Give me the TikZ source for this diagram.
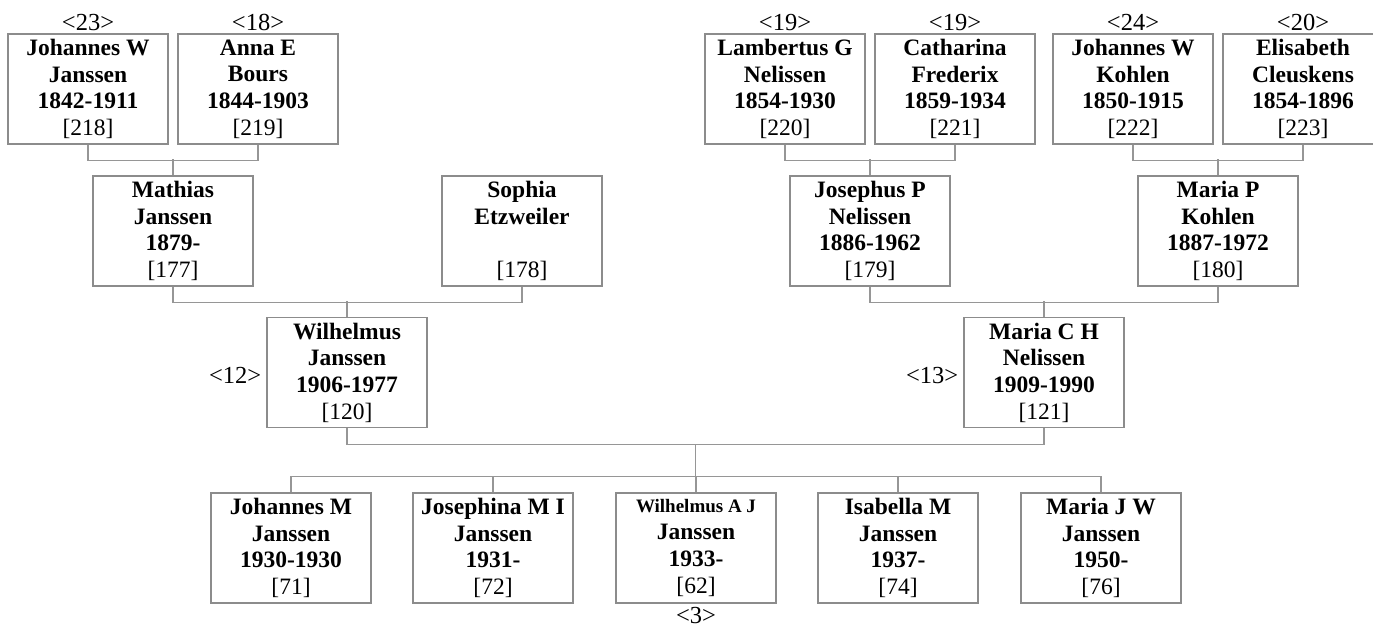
\documentclass[tikz,border=0pt]{standalone}
\usepackage{fontspec}
\setmainfont{Liberation Serif}
\usetikzlibrary{calc}
\definecolor{boxline}{RGB}{140,140,140}
\definecolor{conline}{RGB}{150,150,150}
\tikzset{
  pbox/.style={draw=boxline, line width=1.3pt, minimum width=160pt, minimum height=110pt,
    inner sep=0pt, align=center, font=\fontsize{23.5}{26.7}\selectfont, text=black},
  con/.style={draw=conline, line width=1.3pt},
  lab/.style={inner sep=0pt, font=\fontsize{24.5}{26.7}\selectfont, text=black},
}
\newcommand\pname[3]{\textbf{#1}\\\textbf{#2}\\\textbf{#3}}
\newcommand\pid[1]{{\fontsize{23.5}{26.7}\selectfont[#1]}}
\begin{document}
\begin{tikzpicture}[x=1pt,y=1pt]
\useasboundingbox (0,0) rectangle (1373,-627);
\begin{scope}
\clip (0,0) rectangle (1373,-627);
% generation 1
\node[pbox] (f1) at (88,-89) {\pname{Johannes W}{Janssen}{1842-1911}\\\pid{218}};
\node[pbox] (f2) at (258,-89) {\pname{Anna E}{Bours}{1844-1903}\\\pid{219}};
\node[pbox] (f3) at (785,-89) {\pname{Lambertus G}{Nelissen}{1854-1930}\\\pid{220}};
\node[pbox] (f4) at (955,-89) {\pname{Catharina}{Frederix}{1859-1934}\\\pid{221}};
\node[pbox] (f5) at (1133,-89) {\pname{Johannes W}{Kohlen}{1850-1915}\\\pid{222}};
\node[pbox] (f6) at (1303,-89) {\pname{Elisabeth}{Cleuskens}{1854-1896}\\\pid{223}};
\end{scope}
% generation 2
\node[pbox] (g1) at (173,-231) {\pname{Mathias}{Janssen}{1879-}\\\pid{177}};
\node[pbox] (g2) at (522,-231) {\textbf{Sophia}\\\textbf{Etzweiler}\\\mbox{}\\\pid{178}};
\node[pbox] (g3) at (870,-231) {\pname{Josephus P}{Nelissen}{1886-1962}\\\pid{179}};
\node[pbox] (g4) at (1218,-231) {\pname{Maria P}{Kohlen}{1887-1972}\\\pid{180}};
% generation 3
\node[pbox] (h1) at (347,-372.5) {\pname{Wilhelmus}{Janssen}{1906-1977}\\\pid{120}};
\node[pbox] (h2) at (1044,-372.5) {\pname{Maria C H}{Nelissen}{1909-1990}\\\pid{121}};
% children
\node[pbox] (c1) at (291,-548) {\pname{Johannes M}{Janssen}{1930-1930}\\\pid{71}};
\node[pbox] (c2) at (493,-548) {\pname{Josephina M I}{Janssen}{1931-}\\\pid{72}};
\node[pbox] (c3) at (696,-548) {{\fontsize{19}{26.7}\selectfont\textbf{Wilhelmus A J}}\\\textbf{Janssen}\\\textbf{1933-}\\\pid{62}};
\node[pbox] (c4) at (898,-548) {\pname{Isabella M}{Janssen}{1937-}\\\pid{74}};
\node[pbox] (c5) at (1101,-548) {\pname{Maria J W}{Janssen}{1950-}\\\pid{76}};
% labels
\node[lab, anchor=base] (l1) at ([yshift=3pt]f1.north) {\textless23\textgreater};
\node[lab, anchor=base] (l2) at ([yshift=3pt]f2.north) {\textless18\textgreater};
\node[lab, anchor=base] (l3) at ([yshift=3pt]f3.north) {\textless19\textgreater};
\node[lab, anchor=base] (l4) at ([yshift=3pt]f4.north) {\textless19\textgreater};
\node[lab, anchor=base] (l5) at ([yshift=3pt]f5.north) {\textless24\textgreater};
\node[lab, anchor=base] (l6) at ([yshift=3pt]f6.north) {\textless20\textgreater};
\node[lab, anchor=base east] (l7) at ([xshift=-5pt,yshift=-10.5pt]h1.west) {\textless12\textgreater};
\node[lab, anchor=base east] (l8) at ([xshift=-5pt,yshift=-10.5pt]h2.west) {\textless13\textgreater};
\node[lab, anchor=base] (l9) at ([yshift=-20pt]c3.south) {\textless3\textgreater};
% connectors
\draw[con] (f1.south) -- ++(0,-16) -| (f2.south);
\draw[con] (g1.north) -- ++(0,16);
\draw[con] (f3.south) -- ++(0,-16) -| (f4.south);
\draw[con] (g3.north) -- ++(0,16);
\draw[con] (f5.south) -- ++(0,-16) -| (f6.south);
\draw[con] (g4.north) -- ++(0,16);
\draw[con] (g1.south) -- ++(0,-16) -| (g2.south);
\draw[con] (h1.north) -- ++(0,16);
\draw[con] (g3.south) -- ++(0,-16) -| (g4.south);
\draw[con] (h2.north) -- ++(0,16);
\draw[con] (h1.south) -- ++(0,-16) -| (h2.south);
\coordinate (jn) at ($(h1.south)!0.5!(h2.south)+(0,-16)$);
\draw[con] (jn) -- (jn |- c3.north);
\draw[con] (c1.north) -- ++(0,16) -| (c5.north);
\draw[con] (c2.north) -- ++(0,16);
\draw[con] (c3.north) -- ++(0,16);
\draw[con] (c4.north) -- ++(0,16);
\end{tikzpicture}
\end{document}
